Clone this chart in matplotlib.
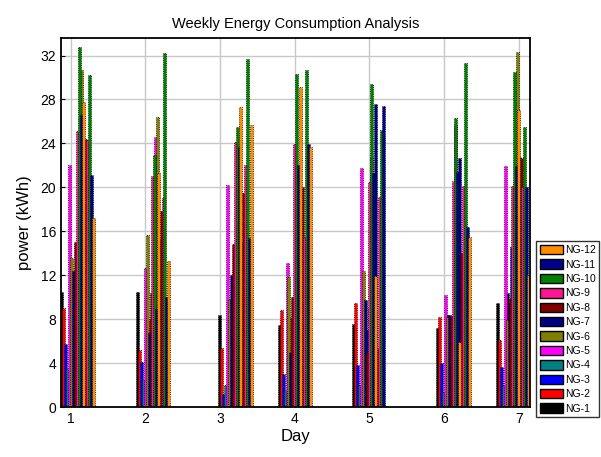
import numpy as np
import matplotlib
matplotlib.use("Agg")
from matplotlib import pyplot as plt
from matplotlib.patches import Patch

plt.rcParams["font.family"] = ["Liberation Sans", "DejaVu Sans"]

days = [1, 2, 3, 4, 5, 6, 7]
series = ["NG-1", "NG-2", "NG-3", "NG-4", "NG-5", "NG-6",
          "NG-7", "NG-8", "NG-9", "NG-10", "NG-11", "NG-12"]
colors = ["#000000", "#ff0000", "#0000ff", "#008080", "#ff00ff", "#808000",
          "#000080", "#800000", "#ff1493", "#008000", "#00008b", "#ff8c00"]

# first reading of each day, rows = days, cols = NG-1..NG-12
first = [
    [10.5, 9.0, 5.7, 3.5, 22.0, 13.6, 12.4, 15.0, 25.1, 32.8, 26.6, 27.8],
    [10.5, 5.2, 4.1, 2.5, 12.7, 15.7, 6.7, 10.4, 21.0, 22.9, 8.9, 21.3],
    [8.4, 5.4, 1.2, 2.0, 20.2, 9.8, 12.0, 14.8, 24.1, 25.5, 23.7, 27.3],
    [7.5, 8.8, 3.0, 1.5, 13.1, 11.8, 4.9, 10.0, 23.9, 30.3, 22.0, 29.1],
    [7.6, 9.5, 3.8, 2.0, 21.8, 12.4, 9.7, 4.9, 20.5, 29.4, 21.3, 11.9],
    [7.2, 8.2, 4.0, 1.4, 10.2, 8.2, 8.4, 8.3, 20.6, 26.3, 21.4, 5.9],
    [9.5, 6.1, 3.6, 2.0, 21.9, 7.9, 9.5, 9.8, 20.1, 30.5, 21.9, 27.0],
]
# second reading of each day
second = [
    [6.0, 8.0, 10.0, 12.0, 18.0, 30.7, 13.9, 24.4, 24.3, 30.2, 21.1, 17.2],
    [4.0, 7.9, 5.0, 9.0, 24.6, 26.4, 15.2, 17.8, 19.0, 32.2, 10.0, 13.3],
    [6.0, 3.0, 4.0, 8.0, 12.0, 10.0, 15.0, 19.5, 22.0, 31.7, 15.4, 25.7],
    [5.0, 8.1, 6.0, 4.0, 12.0, 20.0, 8.1, 20.0, 15.5, 30.7, 23.9, 23.7],
    [5.0, 4.0, 7.0, 9.0, 22.8, 13.6, 27.6, 5.3, 19.1, 25.2, 27.4, 0.0],
    [8.4, 3.0, 6.0, 8.0, 25.7, 19.3, 22.7, 14.0, 20.1, 31.3, 16.4, 15.5],
    [10.4, 5.0, 14.6, 8.0, 20.3, 32.3, 22.8, 22.7, 20.0, 25.5, 20.0, 12.0],
]

# where each day's cluster starts, relative to the day tick
day_shift = [-0.14, -0.127, -0.027, -0.228, -0.228, -0.107, -0.308]

first = np.asarray(first)
second = np.asarray(second)
x = np.asarray(days, dtype=float) + np.asarray(day_shift)

step = 0.026
gap = 0.135
width = 0.04

fig = plt.figure(figsize=(6.01, 4.57), dpi=100)
ax = fig.add_axes([0.1015, 0.1094, 0.7805, 0.8076])
ax.set_axisbelow(True)
ax.grid(True, color="#c8c8c8", linewidth=1.0)

for i, (name, c) in enumerate(zip(series, colors)):
    for vals, off in ((first[:, i], 0.0), (second[:, i], gap)):
        ax.bar(x + off + i * step, vals, width=width, align="edge",
               color=c, edgecolor="black", linewidth=0.6, linestyle=":")

ax.set_xlim(0.87, 7.15)
ax.set_ylim(0, 33.6)
ax.set_xticks(days)
ax.set_yticks(range(0, 33, 4))
ax.tick_params(direction="in", length=3, labelsize=10)
for s in ax.spines.values():
    s.set_linewidth(1.3)

ax.set_title("Weekly Energy Consumption Analysis", fontsize=10.5, pad=7)
ax.set_xlabel("Day", fontsize=12, labelpad=2)
ax.set_ylabel("power (kWh)", fontsize=12, labelpad=6)

handles = [Patch(facecolor=c, edgecolor="black", label=n)
           for n, c in zip(series, colors)][::-1]
fig.legend(handles=handles, loc="lower left", bbox_to_anchor=(0.892, 0.087),
           fontsize=7.5, frameon=True, fancybox=False, edgecolor="black",
           handlelength=2.2, handleheight=1.0, labelspacing=0.4,
           handletextpad=0.2, borderpad=0.35, borderaxespad=0.0)

fig.savefig("out.png", dpi=100)
